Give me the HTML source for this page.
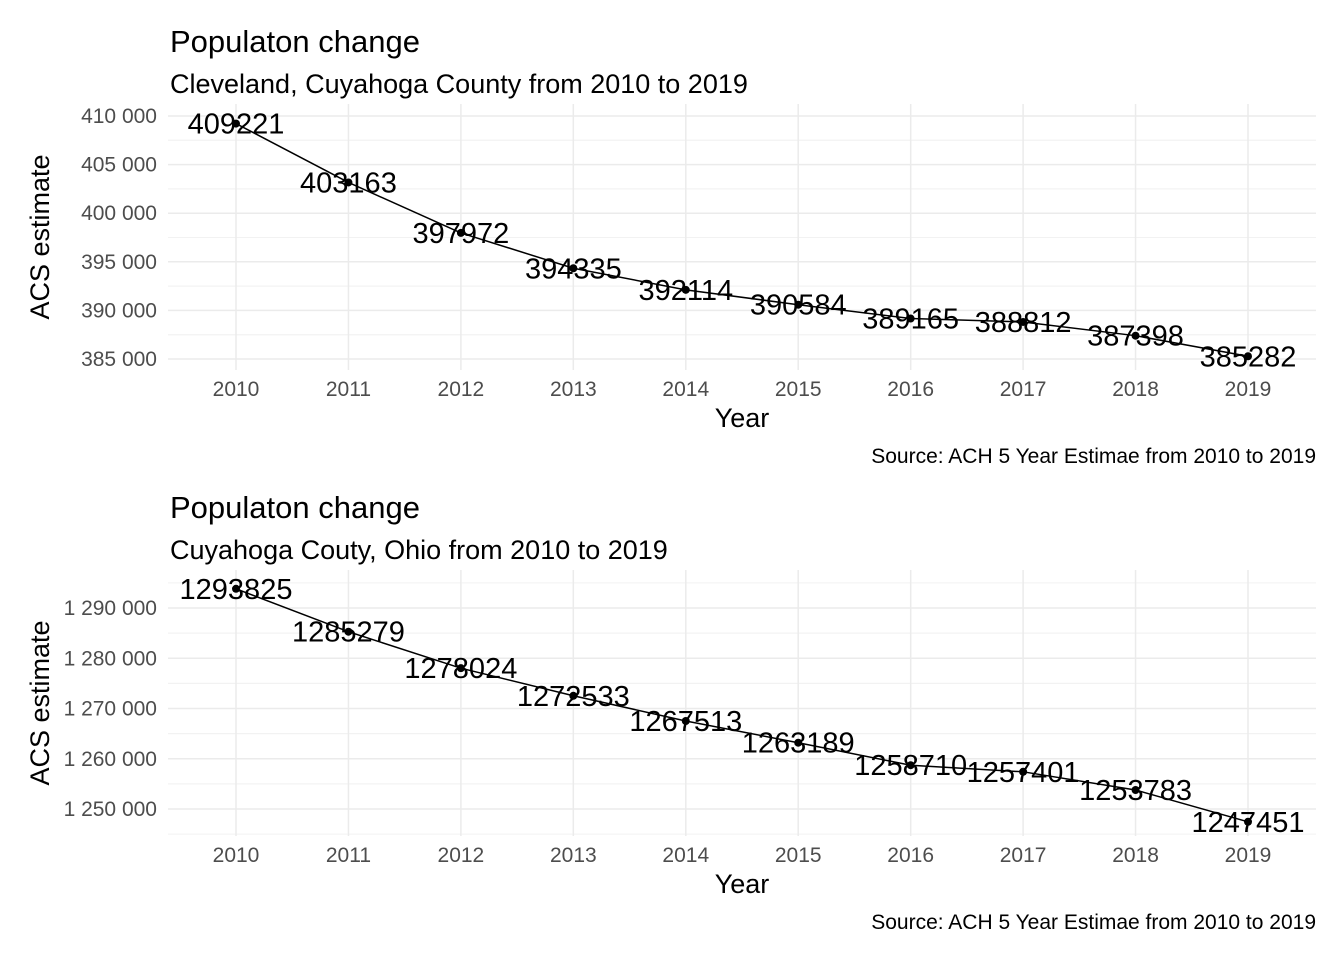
<!DOCTYPE html>
<html><head><meta charset="utf-8"><style>
body{margin:0;background:#fff;}
svg{display:block;font-family:"Liberation Sans",Arial,sans-serif;}
</style></head><body>
<svg id="s" width="1344" height="960" xmlns="http://www.w3.org/2000/svg"></svg>
<script>
const years=[2010,2011,2012,2013,2014,2015,2016,2017,2018,2019];
const cityValues=[409221,403163,397972,394335,392114,390584,389165,388812,387398,385282];
const countyValues=[1293825,1285279,1278024,1272533,1267513,1263189,1258710,1257401,1253783,1247451];
const cityTicks=[385000,390000,395000,400000,405000,410000];
const cityTickLabels=["385 000","390 000","395 000","400 000","405 000","410 000"];
const countyTicks=[1250000,1260000,1270000,1280000,1290000];
const countyTickLabels=["1 250 000","1 260 000","1 270 000","1 280 000","1 290 000"];
const NS="http://www.w3.org/2000/svg";
const svg=document.getElementById('s');
function mk(tag,attrs,parent,text){const e=document.createElementNS(NS,tag);for(const k in attrs)e.setAttribute(k,attrs[k]);if(text!==undefined)e.textContent=text;(parent||svg).appendChild(e);return e;}
function panel(cfg){
  const g=mk('g',{});
  
  
  const x=v=>236+(v-2010)*(1248-236)/9;
  const y=v=>cfg.y0+(v-cfg.v0)*(cfg.y1-cfg.y0)/(cfg.v1-cfg.v0);
  const L=168,R=1316,T=cfg.top,B=cfg.bottom;
  for(let i=0;i<cfg.ticks.length;i++){
    const step=cfg.ticks[1]-cfg.ticks[0];
    for(const m of [cfg.ticks[i]-step/2,cfg.ticks[i]+step/2]){
      const yy=y(m); if(yy>=T&&yy<=B){const l=mk('line',{x1:L,x2:R,y1:yy,y2:yy,stroke:'#f2f2f2','stroke-width':1},g);}
    }
  }
  cfg.ticks.forEach((t,i)=>{
    const l=mk('line',{x1:L,x2:R,y1:y(t),y2:y(t),stroke:'#ebebeb','stroke-width':1.5},g);
    
    const tx=mk('text',{x:157,y:y(t)+7,'text-anchor':'end','font-size':21,fill:'#4d4d4d'},g,cfg.tickLabels[i]);
    
  });
  years.forEach(yr=>{
    const l=mk('line',{x1:x(yr),x2:x(yr),y1:T,y2:B,stroke:'#ebebeb','stroke-width':1.5},g);
    
    const tx=mk('text',{x:x(yr),y:B+26,'text-anchor':'middle','font-size':21,fill:'#4d4d4d'},g,String(yr));
    
  });
  const line=mk('polyline',{points:cfg.values.map((v,i)=>x(years[i])+','+y(v)).join(' '),fill:'none',stroke:'#000','stroke-width':1.5},g);
  
  cfg.values.forEach((v,i)=>{
    const c=mk('circle',{cx:x(years[i]),cy:y(v),r:4,fill:'#000'},g);
    
    const t=mk('text',{x:x(years[i]),y:y(v)+10,'text-anchor':'middle','font-size':29,fill:'#000'},g,String(v));
    
  });
  const t1=mk('text',{x:170,y:cfg.titleY,'font-size':31,fill:'#000'},g,'Populaton change');
  
  const t2=mk('text',{x:170,y:cfg.titleY+41,'font-size':27,fill:'#000'},g,cfg.subtitle);
  
  const yt=mk('text',{x:0,y:0,'font-size':27,fill:'#000','text-anchor':'middle',transform:`translate(49,${(T+B)/2}) rotate(-90)`},g,'ACS estimate');
  
  const xt=mk('text',{x:742,y:B+57,'font-size':27,fill:'#000','text-anchor':'middle'},g,'Year');
  
  const cp=mk('text',{x:1316,y:B+93,'font-size':21,fill:'#000','text-anchor':'end'},g,'Source: ACH 5 Year Estimae from 2010 to 2019');
  
}
panel({name:'cleveland-panel',values:cityValues,ticks:cityTicks,tickLabels:cityTickLabels,v0:410000,y0:116,v1:385000,y1:359,top:104,bottom:370,titleY:52,subtitle:'Cleveland, Cuyahoga County from 2010 to 2019'});
panel({name:'cuyahoga-panel',values:countyValues,ticks:countyTicks,tickLabels:countyTickLabels,v0:1290000,y0:608,v1:1250000,y1:809,top:570,bottom:836,titleY:518,subtitle:'Cuyahoga Couty, Ohio from 2010 to 2019'});
</script>
</body></html>
